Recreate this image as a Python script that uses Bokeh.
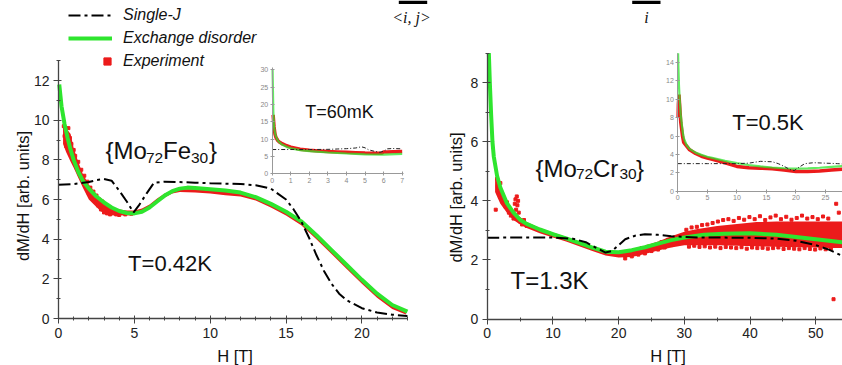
from bokeh.plotting import figure
from bokeh.models import Range1d, LinearAxis, SingleIntervalTicker, Label, Legend, LegendItem, BoxAnnotation
from bokeh.embed import file_html
from bokeh.resources import INLINE

# ---------------- data ----------------
# Left panel {Mo72Fe30}, T=0.42K
L_FIT_X = [0.05, 0.2, 0.4, 0.6, 0.8, 1.0, 1.3, 1.6, 2.0, 2.5, 3.0, 3.5, 4.0, 4.5, 5.0, 5.5, 6.0, 6.5, 7.0, 7.5,
           8.0, 8.5, 9.0, 10, 11, 12, 13, 14, 15, 16, 17, 18, 19, 20, 21, 22, 23]
L_FIT_Y = [11.8, 10.7, 9.8, 9.1, 8.5, 8.0, 7.4, 6.95, 6.55, 6.15, 5.85, 5.6, 5.42, 5.32, 5.3, 5.38, 5.6, 5.9, 6.2,
           6.42, 6.55, 6.6, 6.58, 6.52, 6.45, 6.35, 6.12, 5.78, 5.38, 4.9, 4.2, 3.45, 2.7, 1.95, 1.25, 0.68, 0.35]
L_SJ_X = [0, 1, 2, 2.5, 3, 3.5, 4.0, 4.5, 4.95, 5.3, 5.8, 6.3, 7, 8, 9, 10, 11, 12, 13, 14, 15, 15.5, 16, 16.5,
          17, 17.5, 18, 18.5, 19, 20, 21, 22, 23]
L_SJ_Y = [6.75, 6.78, 6.88, 6.98, 7.03, 6.95, 6.45, 5.9, 5.35, 5.7, 6.3, 6.85, 6.9, 6.88, 6.85, 6.82, 6.8, 6.78,
          6.72, 6.55, 6.0, 5.5, 4.9, 4.1, 3.2, 2.4, 1.75, 1.25, 0.92, 0.52, 0.3, 0.19, 0.13]
L_EXP_X = [0.3, 0.5, 0.8, 1.0, 1.3, 1.6, 2.0, 2.4, 2.8, 3.2, 3.6, 4.0, 4.5, 5.0, 5.5, 6.0, 6.5, 7.0, 7.5, 8.0,
           9.0, 10, 11, 12, 13, 14, 15, 16, 17, 18, 19, 20, 21, 22, 22.9]
L_EXP_HI = [9.8, 9.6, 9.3, 8.6, 7.9, 7.3, 6.75, 6.35, 6.05, 5.8, 5.6, 5.5, 5.45, 5.45, 5.55, 5.75, 6.05, 6.3, 6.45,
            6.52, 6.52, 6.46, 6.4, 6.32, 6.1, 5.76, 5.36, 4.88, 4.18, 3.43, 2.68, 1.93, 1.23, 0.66, 0.33]
L_EXP_LO = [8.8, 8.4, 7.9, 7.6, 7.1, 6.6, 6.0, 5.7, 5.4, 5.3, 5.25, 5.22, 5.22, 5.25, 5.35, 5.55, 5.85, 6.1, 6.3,
            6.38, 6.36, 6.3, 6.22, 6.15, 5.95, 5.6, 5.2, 4.7, 4.0, 3.25, 2.5, 1.75, 1.05, 0.48, 0.2]
L_SC_X = [0.35, 0.4, 0.45, 0.5, 0.55, 0.6, 0.65, 0.7, 0.75, 0.8, 0.85, 0.9, 1.0, 1.05, 1.1, 1.2, 1.3, 1.4, 1.5,
          1.6, 1.7, 1.8, 1.9, 2.0, 2.1, 2.2, 2.3, 2.4, 2.5, 2.6, 2.7, 2.8, 2.9, 3.0, 3.1, 3.2, 3.3, 3.4, 3.5, 3.6,
          3.7, 3.8, 3.9, 4.0, 4.2, 4.4, 4.6, 4.8]
L_SC_Y = [9.7, 9.2, 9.5, 8.7, 9.3, 8.9, 9.6, 8.5, 9.1, 8.3, 8.8, 8.1, 8.5, 7.9, 8.2, 7.6, 7.9, 7.3, 7.5, 7.0, 7.2,
          6.7, 6.9, 6.3, 6.6, 6.1, 6.4, 5.9, 6.2, 5.7, 6.0, 5.5, 5.9, 5.35, 5.7, 5.3, 5.6, 5.25, 5.5, 5.3, 5.45,
          5.25, 5.4, 5.22, 5.3, 5.25, 5.3, 5.28]

# Left inset, T=60mK
LI_FIT_X = [0.02, 0.04, 0.06, 0.08, 0.1, 0.15, 0.2, 0.3, 0.5, 0.8, 1, 1.5, 2, 3, 4, 5, 6, 7]
LI_FIT_Y = [30, 24, 18, 15.5, 13.5, 11.8, 10.8, 9.6, 8.5, 7.7, 7.35, 6.85, 6.55, 6.15, 5.85, 5.6, 5.55, 5.75]
LI_EXP_X = [0.05, 0.1, 0.15, 0.2, 0.3, 0.4, 0.5, 0.7, 1, 1.5, 2, 2.5, 3, 3.5, 4, 4.5, 5, 5.5, 5.9, 6.0, 6.2,
            6.5, 7]
LI_EXP_Y = [17, 13.5, 11.5, 10.5, 9.6, 9.1, 8.8, 8.3, 7.7, 7.1, 6.8, 6.6, 6.4, 6.3, 6.2, 6.1, 6.0, 5.95, 5.95,
            6.3, 6.3, 6.35, 6.4]
LI_SJ_X = [0, 1, 2, 3, 3.5, 4, 4.5, 4.8, 5.0, 5.2, 5.5, 5.8, 6.0, 6.2, 6.5, 7]
LI_SJ_Y = [7.0, 7.0, 7.0, 7.05, 7.15, 7.25, 7.45, 7.8, 7.5, 6.9, 6.5, 6.2, 6.5, 7.2, 7.3, 7.2]

# Right panel {Mo72Cr30}, T=1.3K
R_FIT_X = [0.25, 0.4, 0.6, 0.8, 1.0, 1.5, 2, 3, 4, 5, 6, 8, 10, 12, 14, 16, 18, 20, 22, 24, 26, 28, 30, 33, 36,
           40, 44, 48, 52, 54.2]
R_FIT_Y = [9.0, 8.0, 6.9, 6.0, 5.5, 4.85, 4.45, 3.92, 3.6, 3.36, 3.22, 3.03, 2.87, 2.73, 2.58, 2.42, 2.28, 2.26,
           2.33, 2.43, 2.55, 2.67, 2.76, 2.85, 2.89, 2.9, 2.85, 2.75, 2.65, 2.59]
R_SJ_X = [0, 5, 10, 13, 15, 16.5, 18, 19, 20, 21, 22.5, 24, 26, 28, 32, 40, 44, 47, 50, 52, 54.2]
R_SJ_Y = [2.75, 2.76, 2.76, 2.72, 2.6, 2.42, 2.25, 2.3, 2.5, 2.7, 2.82, 2.87, 2.85, 2.8, 2.76, 2.75, 2.72, 2.65,
          2.5, 2.35, 2.12]
R_EXP_X = [1.2, 1.6, 2.0, 2.5, 3.0, 4.0, 5.0, 6.0, 8, 10, 12, 14, 16, 18, 20, 22, 24, 26, 28, 30, 32, 35, 38, 41,
           44, 47, 50, 52, 54.2]
R_EXP_HI = [4.8, 4.6, 4.4, 4.15, 3.95, 3.65, 3.45, 3.28, 3.08, 2.93, 2.78, 2.62, 2.47, 2.32, 2.28, 2.35, 2.48,
            2.62, 2.8, 2.95, 3.05, 3.15, 3.22, 3.28, 3.3, 3.3, 3.3, 3.3, 3.3]
R_EXP_LO = [4.3, 4.1, 3.9, 3.75, 3.6, 3.35, 3.2, 3.08, 2.9, 2.76, 2.62, 2.46, 2.3, 2.15, 2.08, 2.1, 2.2, 2.32, 2.42,
            2.5, 2.5, 2.5, 2.48, 2.46, 2.45, 2.43, 2.42, 2.4, 2.4]
R_SC_X = [1.3, 1.5, 1.6, 1.8, 2.0, 2.2, 2.5, 2.8, 3.0, 3.3, 3.6, 4.0, 4.2, 4.3, 4.4, 4.5, 4.6, 4.7, 4.8, 5.0, 5.3,
          5.6, 6.0,
          20.5, 21, 21.5, 22, 22.5, 23, 23.5, 24, 24.5, 25, 25.5, 26, 26.5, 27, 27.5, 28, 28.5, 29, 29.5, 30,
          30.3, 30.7, 31.1, 31.5, 31.9, 32.3, 32.7, 33.1, 33.5, 33.9, 34.3, 34.7, 35.1, 35.5, 35.9, 36.3, 36.7,
          37.1, 37.5, 37.9, 38.3, 38.7, 39.1, 39.5, 39.9, 40.3, 40.7, 41.1, 41.5, 41.9, 42.3, 42.7, 43.1, 43.5,
          43.9, 44.3, 44.7, 45.1, 45.5, 45.9, 46.3, 46.7, 47.1, 47.5, 47.9, 48.3, 48.7, 49.1, 49.5, 49.9, 50.3,
          50.7, 51.1, 51.5, 51.9, 52.3, 52.7, 53.1, 53.5, 53.9, 53.9, 53.8, 52.5]
R_SC_Y = [3.7, 4.75, 4.5, 4.3, 4.6, 4.2, 4.0, 3.8, 3.95, 3.6, 3.5, 3.4, 3.9, 4.05, 3.7, 4.15, 3.85, 4.0, 3.6, 3.3,
          3.2, 3.35, 3.15,
          2.2, 2.05, 2.28, 2.12, 2.32, 2.18, 2.4, 2.22, 2.45, 2.3, 2.5, 2.35, 2.6, 2.42, 2.68, 2.5, 2.75, 2.55,
          2.8, 2.6,
          3.02, 2.45, 3.1, 2.48, 3.12, 2.44, 3.18, 2.46, 3.2, 2.42, 3.25, 2.45, 3.3, 2.4, 3.35, 2.44, 3.38, 2.42,
          3.32, 2.4, 3.42, 2.43, 3.36, 2.38, 3.45, 2.42, 3.38, 2.4, 3.48, 2.41, 3.35, 2.38, 3.44, 2.4, 3.5, 2.42,
          3.38, 2.37, 3.46, 2.4, 3.36, 2.38, 3.42, 2.36, 3.5, 2.4, 3.4, 2.37, 3.45, 2.35, 3.38, 2.39, 3.47, 2.36,
          3.4, 2.38, 0.67, 3.9, 3.6]

# Right inset, T=0.5K
RI_FIT_X = [0.05, 0.1, 0.2, 0.3, 0.5, 0.8, 1, 1.5, 2, 3, 4, 5, 6, 8, 10, 12, 14, 16, 18, 20, 22, 24, 26, 28]
RI_FIT_Y = [15, 13.5, 11.5, 10.2, 8.3, 6.6, 5.8, 5.0, 4.6, 4.2, 3.95, 3.75, 3.6, 3.3, 3.05, 2.85, 2.7, 2.58, 2.5,
            2.45, 2.48, 2.55, 2.65, 2.75]
RI_EXP_X = [0.05, 0.1, 0.2, 0.3, 0.5, 0.8, 1, 1.5, 2, 3, 4, 5, 6, 8, 10, 12, 14, 16, 18, 20, 22, 24, 26, 28]
RI_EXP_Y = [8.0, 9.5, 10.5, 9.5, 7.5, 6.0, 5.3, 4.9, 4.5, 4.1, 3.8, 3.6, 3.45, 3.1, 2.7, 2.55, 2.5, 2.45, 2.3,
            2.15, 2.15, 2.2, 2.3, 2.4]
RI_SJ_X = [0, 5, 10, 12, 14, 16, 17, 18, 19, 19.7, 20.5, 21.5, 23, 25, 27, 28]
RI_SJ_Y = [3.0, 3.0, 3.0, 3.05, 3.25, 3.2, 3.0, 2.7, 2.35, 2.25, 2.6, 3.0, 3.1, 3.05, 3.0, 2.95]

# ---------------- layout helpers ----------------
W, H = 842, 365
X0, Y0 = 58, 318           # left main panel origin (canvas px)
SX, SY = 15.17, 19.83      # left main panel px per unit


def xr(v0, s):
    return Range1d(-v0 / s, (W - v0) / s)


def yr(v0, s):
    return Range1d((v0 - H) / s, v0 / s)


GREEN = "#2ee52e"
RED = "#ec1b1b"
FONT = "Liberation Sans"

p = figure(width=W, height=H, x_range=xr(X0, SX), y_range=yr(Y0, SY),
           x_axis_location=None, y_axis_location=None,
           output_backend="svg", toolbar_location=None,
           min_border_left=0, min_border_right=0, min_border_top=0, min_border_bottom=0,
           outline_line_color=None, background_fill_color="white", border_fill_color="white")
p.grid.visible = False
p.extra_x_ranges = {"rx": xr(486.7, 6.572), "ix": xr(271.7, 18.57), "jx": xr(677.3, 5.908)}
p.extra_y_ranges = {"ry": yr(318.5, 29.54), "iy": yr(173.3, 3.467), "jy": yr(190.7, 9.19)}


def style_main(ax):
    ax.axis_line_color = "#444"
    ax.axis_line_width = 1.3
    ax.major_tick_line_color = "#444"
    ax.minor_tick_line_color = "#444"
    ax.major_tick_in = 3
    ax.major_tick_out = 5
    ax.minor_tick_in = 2
    ax.minor_tick_out = 2
    ax.major_label_text_font = FONT
    ax.major_label_text_font_size = "14px"
    ax.major_label_text_color = "#222"
    ax.major_label_standoff = 4


def style_inset(ax):
    ax.axis_line_color = "#999"
    ax.axis_line_width = 1
    ax.major_tick_line_color = "#999"
    ax.minor_tick_line_color = None
    ax.major_tick_in = 2
    ax.major_tick_out = 2
    ax.major_label_text_font = FONT
    ax.major_label_text_font_size = "7px"
    ax.major_label_text_color = "#888"
    ax.major_label_standoff = 2


axes = [
    # (x range, y range, side, bounds, interval, minor, style)
    ("default", "default", "below", (0, 23), 5, 5, style_main),
    ("default", "default", "left", (0, 13), 2, 2, style_main),
    ("rx", "ry", "below", (0, 56), 10, 2, style_main),
    ("rx", "ry", "left", (0, 9), 2, 2, style_main),
    ("ix", "iy", "below", (0, 7.05), 1, 0, style_inset),
    ("ix", "iy", "left", (0, 30.8), 5, 0, style_inset),
    ("jx", "jy", "below", (0, 30), 5, 0, style_inset),
    ("jx", "jy", "left", (0, 15), 2, 0, style_inset),
]
for xn, yn, side, bnds, step, nminor, sty in axes:
    a = LinearAxis(x_range_name=xn, y_range_name=yn, fixed_location=0, bounds=bnds,
                   ticker=SingleIntervalTicker(interval=step, num_minor_ticks=nminor))
    sty(a)
    p.add_layout(a, side)

DASHDOT = "12 4 3 4"

# ---- left main ----
p.varea(x=L_EXP_X, y1=L_EXP_LO, y2=L_EXP_HI, fill_color=RED)
r_exp = p.scatter(L_SC_X, L_SC_Y, marker="square", size=3, color=RED)
r_fit = p.line(L_FIT_X, L_FIT_Y, line_color=GREEN, line_width=4)
r_sj = p.line(L_SJ_X, L_SJ_Y, line_color="black", line_width=2, line_dash=DASHDOT)

# ---- right main ----
p.varea(x=R_EXP_X, y1=R_EXP_LO, y2=R_EXP_HI, fill_color=RED, x_range_name="rx", y_range_name="ry")
p.scatter(R_SC_X, R_SC_Y, marker="square", size=3, color=RED, x_range_name="rx", y_range_name="ry")
p.line(R_FIT_X, R_FIT_Y, line_color=GREEN, line_width=4, x_range_name="rx", y_range_name="ry")
p.line(R_SJ_X, R_SJ_Y, line_color="black", line_width=2, line_dash=DASHDOT, x_range_name="rx", y_range_name="ry")

# ---- insets ----
for (ex, ey, fx, fy, sx, sy, xn, yn) in (
        (LI_EXP_X, LI_EXP_Y, LI_FIT_X, LI_FIT_Y, LI_SJ_X, LI_SJ_Y, "ix", "iy"),
        (RI_EXP_X, RI_EXP_Y, RI_FIT_X, RI_FIT_Y, RI_SJ_X, RI_SJ_Y, "jx", "jy")):
    p.line(ex, ey, line_color=RED, line_width=3.5, x_range_name=xn, y_range_name=yn)
    p.line(fx, fy, line_color=GREEN, line_width=2.2, line_alpha=0.75, x_range_name=xn, y_range_name=yn)
    p.line(sx, sy, line_color="#222", line_width=1, line_dash="4 2 1 2", x_range_name=xn, y_range_name=yn)

# ---- legends (location = bottom-left of legend, px from canvas bottom-left) ----
leg_kw = dict(padding=0, margin=0, border_line_color=None, background_fill_alpha=0,
              label_text_font=FONT, label_text_font_style="italic", label_text_font_size="16px",
              label_text_color="#111")
leg1 = Legend(items=[LegendItem(label="Single-J", renderers=[r_sj]),
                     LegendItem(label="Exchange disorder", renderers=[r_fit])],
              location=(68, H - 48), glyph_width=44, glyph_height=20, label_height=20, spacing=3,
              label_standoff=11, **leg_kw)
leg2 = Legend(items=[LegendItem(label="Experiment", renderers=[r_exp])],
              location=(98, H - 70), glyph_width=18, glyph_height=18, label_height=18, spacing=0,
              label_standoff=7, **leg_kw)
p.add_layout(leg1)
p.add_layout(leg2)


# ---- texts ----
def cx(X):
    return (X - X0) / SX


def cy(Y):
    return (Y0 - Y) / SY


def lab(text, X, Y, size, align="left", baseline="middle", angle=0, style="normal", font=FONT, color="#111"):
    p.add_layout(Label(x=cx(X), y=cy(Y), text=text, text_font=font,
                       text_font_size=f"{size}px", text_align=align, text_baseline=baseline,
                       angle=angle, angle_units="deg", text_font_style=style, text_color=color))


lab("dM/dH [arb. units]", 22.5, 195.5, 16.5, align="center", angle=90)
lab("H [T]", 234.5, 355, 16.5, align="center")
lab("dM/dH [arb. units]", 455, 197, 16.5, align="center", angle=90)
lab("H [T]", 667.5, 355, 16.5, align="center")

lab("T=0.42K", 169.5, 263, 22, align="center")
lab("T=1.3K", 549, 280, 24, align="center")
lab("T=60mK", 339, 111, 18, align="center")
lab("T=0.5K", 767.5, 122, 22, align="center")

for t, X, Y, s in (("{Mo", 105, 150, 24), ("72", 145.5, 157, 15.5), ("Fe", 162.5, 150, 24),
                   ("30", 190.5, 157, 15.5), ("}", 208.5, 150, 24),
                   ("{Mo", 535, 168.3, 24), ("72", 575.5, 173, 15.5), ("Cr", 592.5, 168.3, 24),
                   ("30", 619, 173, 15.5), ("}", 635.5, 168.3, 24)):
    lab(t, X, Y, s, baseline="alphabetic")

# fragments of the formula cut at the top edge: bottom strokes of the two sums and their indices
for L_, R_ in ((398.3, 426.7), (631.7, 660.0)):
    p.add_layout(BoxAnnotation(left=cx(L_), right=cx(R_), top=cy(0), bottom=cy(3.5),
                               fill_color="black", fill_alpha=1, line_color=None))
lab("<i, j>", 411, 17, 16, align="center", style="italic", font="Liberation Serif")
lab("i", 646, 17, 16, align="center", style="italic", font="Liberation Serif")

open("out.html", "w").write(file_html(p, INLINE))
